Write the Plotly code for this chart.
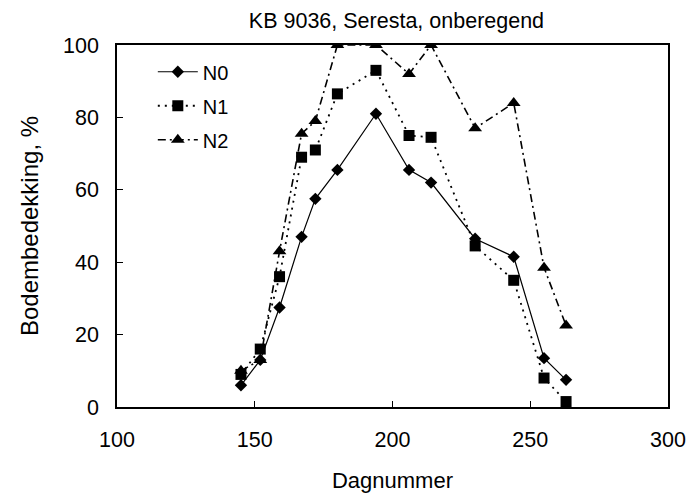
import plotly.graph_objects as go

days = [145, 152, 159, 167, 172, 180, 194, 206, 214, 230, 244, 255, 263]
n0 = [6, 13, 27.5, 47, 57.5, 65.5, 81, 65.5, 62, 46.5, 41.5, 13.5, 7.5]
n1 = [9, 16, 36, 69, 71, 86.5, 93, 75, 74.5, 44.5, 35, 8, 1.5]
n2 = [10, 13, 43, 75.5, 79, 100, 100, 92, 100, 77, 84, 38.5, 22.5]

FONT = "Liberation Sans, Arial, sans-serif"

fig = go.Figure()
fig.add_trace(go.Scatter(x=days, y=n0, name="N0", mode="lines+markers", legendgroup="a",
                         line=dict(color="black", width=1.2, dash="solid"),
                         marker=dict(symbol="diamond", size=9.5, color="black")))
fig.add_trace(go.Scatter(x=days, y=n1, name="N1", mode="lines+markers", legendgroup="b",
                         line=dict(color="black", width=1.8, dash="2px,5px"),
                         marker=dict(symbol="square", size=11, color="black")))
fig.add_trace(go.Scatter(x=days, y=n2, name="N2", mode="lines+markers", legendgroup="c",
                         line=dict(color="black", width=1.6, dash="8px,4px,2px,4px"),
                         marker=dict(symbol="triangle-up", size=12, color="black")))

fig.update_layout(
    width=698, height=501,
    margin=dict(l=117, r=22, t=45, b=92),
    paper_bgcolor="white", plot_bgcolor="white",
    font=dict(family=FONT, size=21.5, color="black"),
    title=dict(text="KB 9036, Seresta, onberegend", x=0.568, xanchor="center",
               y=0.96, yanchor="middle", font=dict(size=21.5)),
    legend=dict(x=0.065, y=0.98, xanchor="left", yanchor="top",
                bgcolor="rgba(0,0,0,0)", font=dict(size=20), tracegroupgap=5,
                itemwidth=40),
    showlegend=True,
)
fig.update_xaxes(range=[100, 300], dtick=50, tick0=100, ticks="inside", ticklen=6,
                 tickcolor="black", showline=True, linecolor="black", linewidth=1.5,
                 mirror=True, showgrid=False, zeroline=False, ticklabelstandoff=12,
                 title=dict(text="Dagnummer", standoff=22, font=dict(size=22)))
fig.update_yaxes(range=[0, 100], dtick=20, ticks="inside", ticklen=6,
                 tickcolor="black", showline=True, linecolor="black", linewidth=1.5,
                 mirror=True, showgrid=False, zeroline=False, ticklabelstandoff=12,
                 title=dict(text="Bodembedekking, %", standoff=18, font=dict(size=24)))

fig.write_html("out.html", config={"displayModeBar": False},
               post_script="document.body.style.margin='0';")
